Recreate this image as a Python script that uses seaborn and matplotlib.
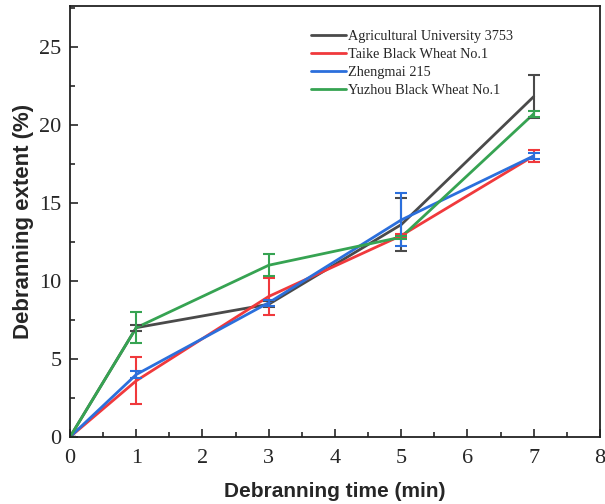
import numpy as np
import pandas as pd
import matplotlib
matplotlib.use('Agg')
import matplotlib.pyplot as plt
import seaborn as sns
from matplotlib.ticker import MultipleLocator

# Data
time_min = [0, 1, 3, 5, 7]
agri_3753 = [0, 7.0, 8.5, 13.6, 21.8]
agri_3753_err = [0, 0.2, 0.2, 1.7, 1.4]
taike = [0, 3.6, 9.0, 12.9, 18.0]
taike_err = [0, 1.5, 1.2, 0.1, 0.4]
zhengmai = [0, 4.0, 8.6, 13.9, 18.0]
zhengmai_err = [0, 0.2, 0.2, 1.7, 0.2]
yuzhou = [0, 7.0, 11.0, 12.8, 20.7]
yuzhou_err = [0, 1.0, 0.7, 0.1, 0.2]

names = ['Agricultural University 3753', 'Taike Black Wheat No.1',
         'Zhengmai 215', 'Yuzhou Black Wheat No.1']
colors = ['#4a4a4a', '#f0393c', '#2b6fdc', '#36a352']

sns.set_style('ticks')

rows = []
for name, vals, errs in zip(names, [agri_3753, taike, zhengmai, yuzhou],
                            [agri_3753_err, taike_err, zhengmai_err, yuzhou_err]):
    for t, v, e in zip(time_min, vals, errs):
        rows.append({'time': t, 'extent': v, 'err': e, 'variety': name})
df = pd.DataFrame(rows)

fig = plt.figure(figsize=(6.05, 5.04), dpi=100)
ax = fig.add_axes([0.1157, 0.133, 0.876, 0.855])

sns.lineplot(data=df, x='time', y='extent', hue='variety', hue_order=names,
             palette=colors, linewidth=2, ax=ax)

for name, c in zip(names, colors):
    sub = df[df['variety'] == name]
    ax.errorbar(sub['time'], sub['extent'], yerr=sub['err'], fmt='none',
                ecolor=c, elinewidth=1.5, capsize=4, capthick=1.5)

ax.set_xlim(0, 8)
ax.set_ylim(0, 27.6)
ax.xaxis.set_major_locator(MultipleLocator(1))
ax.xaxis.set_minor_locator(MultipleLocator(0.5))
ax.yaxis.set_major_locator(MultipleLocator(5))
ax.yaxis.set_minor_locator(MultipleLocator(2.5))
ax.tick_params(which='both', direction='in', width=1.2)
ax.tick_params(which='major', length=6)
ax.tick_params(which='minor', length=3.5)
ax.tick_params(axis='x', pad=9)
ax.tick_params(axis='y', pad=6)

for lab in ax.get_xticklabels() + ax.get_yticklabels():
    lab.set_family('Liberation Serif')
    lab.set_fontsize(16)

for s in ax.spines.values():
    s.set_linewidth(1.3)
    s.set_color('#222222')

ax.set_xlabel('Debranning time (min)', fontsize=15, fontweight='bold',
              family='Liberation Sans', labelpad=10)
ax.set_ylabel('Debranning extent (%)', fontsize=16, fontweight='bold',
              family='Liberation Sans', labelpad=4)

leg = ax.legend(loc='upper left', bbox_to_anchor=(0.443, 0.957), frameon=False,
                prop={'family': 'Liberation Serif', 'size': 10.3},
                handlelength=2.5, handletextpad=0.1, labelspacing=0.35,
                borderaxespad=0)

fig.savefig('out.png', dpi=100)
